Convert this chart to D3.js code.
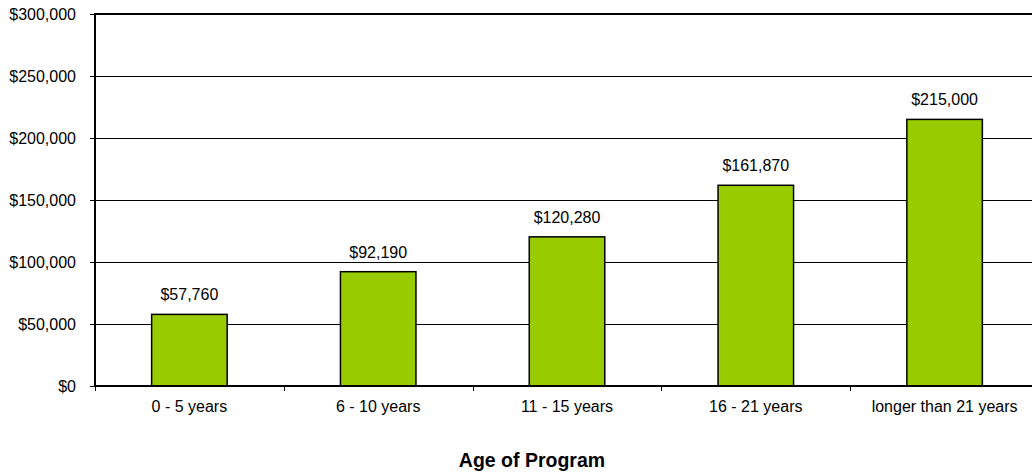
<!DOCTYPE html>
<html>
<head>
<meta charset="utf-8">
<script src="https://cdn.jsdelivr.net/npm/d3@7"></script>
<style>
  html, body { margin: 0; padding: 0; background: #fff; }
  svg { display: block; font-family: "Liberation Sans", Arial, sans-serif; }
</style>
</head>
<body>
<svg id="chart" width="1032" height="473"></svg>
<script>
// Average program budget by age of program
const categories = ["0 - 5 years", "6 - 10 years", "11 - 15 years", "16 - 21 years", "longer than 21 years"];
const values = [57760, 92190, 120280, 161870, 215000];
const yTicks = [0, 50000, 100000, 150000, 200000, 250000, 300000];
const xTitle = "Age of Program";

const svg = d3.select("#chart");
const margin = { left: 95, top: 14, right: -7, bottom: 87 };
const W = 1032, H = 473;
const x0 = margin.left, x1 = W - margin.right;
const y0 = H - margin.bottom, y1 = margin.top;
const FONT = "Liberation Sans, Arial, sans-serif";

const x = d3.scaleBand().domain(categories).range([x0, x1]).paddingInner(0).paddingOuter(0);
const y = d3.scaleLinear().domain([0, 300000]).range([y0, y1]);
const fmt = v => "$" + d3.format(",")(v);

// horizontal gridlines
svg.append("g").selectAll("line").data(yTicks.filter(t => t > 0 && t < 300000)).join("line")
  .attr("x1", x0).attr("x2", W).attr("y1", d => y(d) + 0.5).attr("y2", d => y(d) + 0.5)
  .attr("stroke", "#000").attr("stroke-width", 1);

// bars
const barW = x.bandwidth() * 0.4;
svg.append("g").selectAll("rect").data(values).join("rect")
  .attr("x", (d, i) => x(categories[i]) + (x.bandwidth() - barW) / 2)
  .attr("y", d => y(d))
  .attr("width", barW)
  .attr("height", d => y(0) - y(d))
  .attr("fill", "#99CC00")
  .attr("stroke", "#000")
  .attr("stroke-width", 1.5);

// value labels
svg.append("g").selectAll("text").data(values).join("text")
  .attr("x", (d, i) => x(categories[i]) + x.bandwidth() / 2)
  .attr("y", d => y(d) - 14)
  .attr("text-anchor", "middle")
  .attr("font-size", 16)
  .attr("font-family", FONT)
  .attr("fill", "#000")
  .text(fmt);

// left axis
const yAxis = d3.axisLeft(y).tickValues(yTicks).tickFormat(fmt).tickSize(5).tickPadding(14);
const gy = svg.append("g").attr("transform", `translate(${x0},0)`).call(yAxis)
  .attr("font-size", 16).attr("font-family", FONT);
gy.select(".domain").remove();
gy.selectAll(".tick line").attr("stroke", "#000");
gy.selectAll(".tick text").attr("fill", "#000");

// bottom axis: ticks at category boundaries
const bounds = categories.map(c => x(c)).concat([x1]);
svg.append("g").selectAll("line").data(bounds).join("line")
  .attr("x1", d => Math.round(d) + 0.5).attr("x2", d => Math.round(d) + 0.5)
  .attr("y1", y0).attr("y2", y0 + 5)
  .attr("stroke", "#000");
svg.append("g").selectAll("text").data(categories).join("text")
  .attr("x", d => x(d) + x.bandwidth() / 2)
  .attr("y", y0 + 26)
  .attr("text-anchor", "middle")
  .attr("font-size", 16)
  .attr("font-family", FONT)
  .attr("fill", "#000")
  .text(d => d);

// frame lines
svg.append("line").attr("x1", x0).attr("x2", W).attr("y1", y1).attr("y2", y1)
  .attr("stroke", "#000").attr("stroke-width", 2);
svg.append("line").attr("x1", x0).attr("x2", W).attr("y1", y0).attr("y2", y0)
  .attr("stroke", "#000").attr("stroke-width", 2);
svg.append("line").attr("x1", x0).attr("x2", x0).attr("y1", y1 - 1).attr("y2", y0 + 1)
  .attr("stroke", "#000").attr("stroke-width", 2);

// axis title
svg.append("text")
  .attr("x", 532)
  .attr("y", 467)
  .attr("text-anchor", "middle")
  .attr("font-size", 19.5)
  .attr("font-weight", "bold")
  .attr("font-family", FONT)
  .attr("fill", "#000")
  .text(xTitle);
</script>
</body>
</html>
